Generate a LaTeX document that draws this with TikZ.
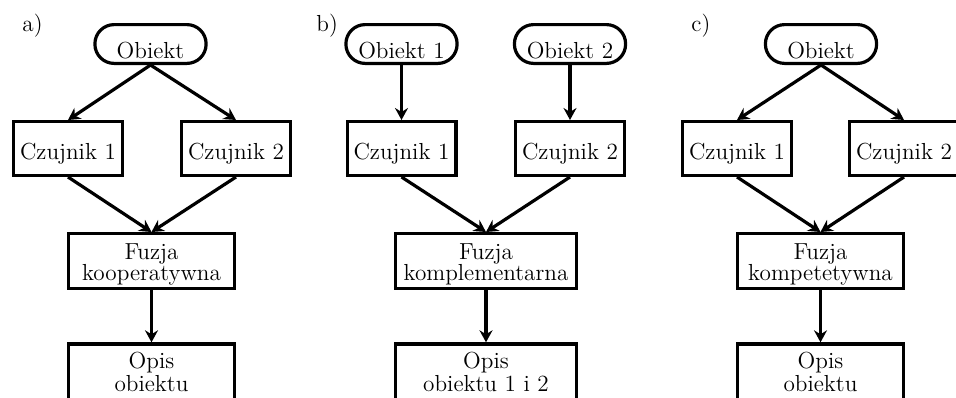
\documentclass[tikz,border=0pt]{standalone}
\usetikzlibrary{arrows.meta}
\newcommand\twoln[3]{\vtop{\baselineskip=#3\lineskiplimit=-20pt\lineskip=0pt\halign{\hfil##\hfil\cr#1\cr#2\cr}}}
\newcommand\fz{\fontsize{11.6}{14}\selectfont}
\begin{document}
\begin{tikzpicture}[x=0.5pt,y=-0.5pt,
  every node/.style={font=\fz, text=black},
  objbox/.style={draw, line width=1.6pt, rectangle, rounded corners=9.6pt,
    minimum width=55.6pt, minimum height=19.4pt, inner sep=0pt,
    text height=14.3pt, text depth=0pt},
  sensbox/.style={draw, line width=1.6pt, rectangle,
    minimum width=54.4pt, minimum height=26.9pt, inner sep=0pt,
    text height=10.8pt, text depth=0pt},
  fusbox/.style={draw, line width=1.6pt, rectangle,
    minimum height=27.4pt, inner sep=0pt,
    text height=8pt, text depth=9.4pt},
  descbox/.style={draw, line width=1.6pt, rectangle,
    minimum height=31pt, inner sep=0pt,
    text height=8pt, text depth=14.6pt},
  conn/.style={line width=1.6pt, -{Stealth[length=6pt,width=6.5pt,inset=2pt]}},
  panel/.style={anchor=base west, inner sep=0pt}
]
\useasboundingbox (0,0) rectangle (956,397);
\clip (0,0) rectangle (956,397);

% ---- panel a ----
\node[panel] (la) at (22,31) {a)};
\node[objbox] (aob) at (150.5,44) {Obiekt};
\node[sensbox] (ac1) at (68,148.5) {Czujnik 1};
\node[sensbox] (ac2) at (236,148.5) {Czujnik 2};
\node[fusbox, minimum width=82.9pt] (af) at (151.5,261) {\twoln{Fuzja}{kooperatywna}{10.4pt}};
\node[descbox, minimum width=82.9pt] (ao) at (151.5,374.9) {\twoln{Opis}{obiektu}{11.5pt}};
\draw[conn] (aob.south) -- (ac1.north);
\draw[conn] (aob.south) -- (ac2.north);
\draw[conn] (ac1.south) -- (af.north);
\draw[conn] (ac2.south) -- (af.north);
\draw[conn] (af.south) -- (ao.north);

% ---- panel b ----
\node[panel] (lb) at (316,31) {b)};
\node[objbox] (bob1) at (401.5,44) {Obiekt 1};
\node[objbox] (bob2) at (570,44) {Obiekt 2};
\node[sensbox] (bc1) at (401.5,148.5) {Czujnik 1};
\node[sensbox] (bc2) at (570,148.5) {Czujnik 2};
\node[fusbox, minimum width=90.4pt] (bf) at (486,261) {\twoln{Fuzja}{komplementarna}{10.4pt}};
\node[descbox, minimum width=90.4pt] (bo) at (486,374.9) {\twoln{Opis}{obiektu 1 i 2}{11.5pt}};
\draw[conn] (bob1.south) -- (bc1.north);
\draw[conn] (bob2.south) -- (bc2.north);
\draw[conn] (bc1.south) -- (bf.north);
\draw[conn] (bc2.south) -- (bf.north);
\draw[conn] (bf.south) -- (bo.north);

% ---- panel c ----
\node[panel] (lc) at (691,31) {c)};
\node[objbox] (cob) at (821,44) {Obiekt};
\node[sensbox] (cc1) at (737,148.5) {Czujnik 1};
\node[sensbox] (cc2) at (904,148.5) {Czujnik 2};
\node[fusbox, minimum width=82.9pt] (cf) at (820.5,261) {\twoln{Fuzja}{kompetetywna}{10.4pt}};
\node[descbox, minimum width=82.9pt] (co) at (820.5,374.9) {\twoln{Opis}{obiektu}{11.5pt}};
\draw[conn] (cob.south) -- (cc1.north);
\draw[conn] (cob.south) -- (cc2.north);
\draw[conn] (cc1.south) -- (cf.north);
\draw[conn] (cc2.south) -- (cf.north);
\draw[conn] (cf.south) -- (co.north);
\end{tikzpicture}
\end{document}
